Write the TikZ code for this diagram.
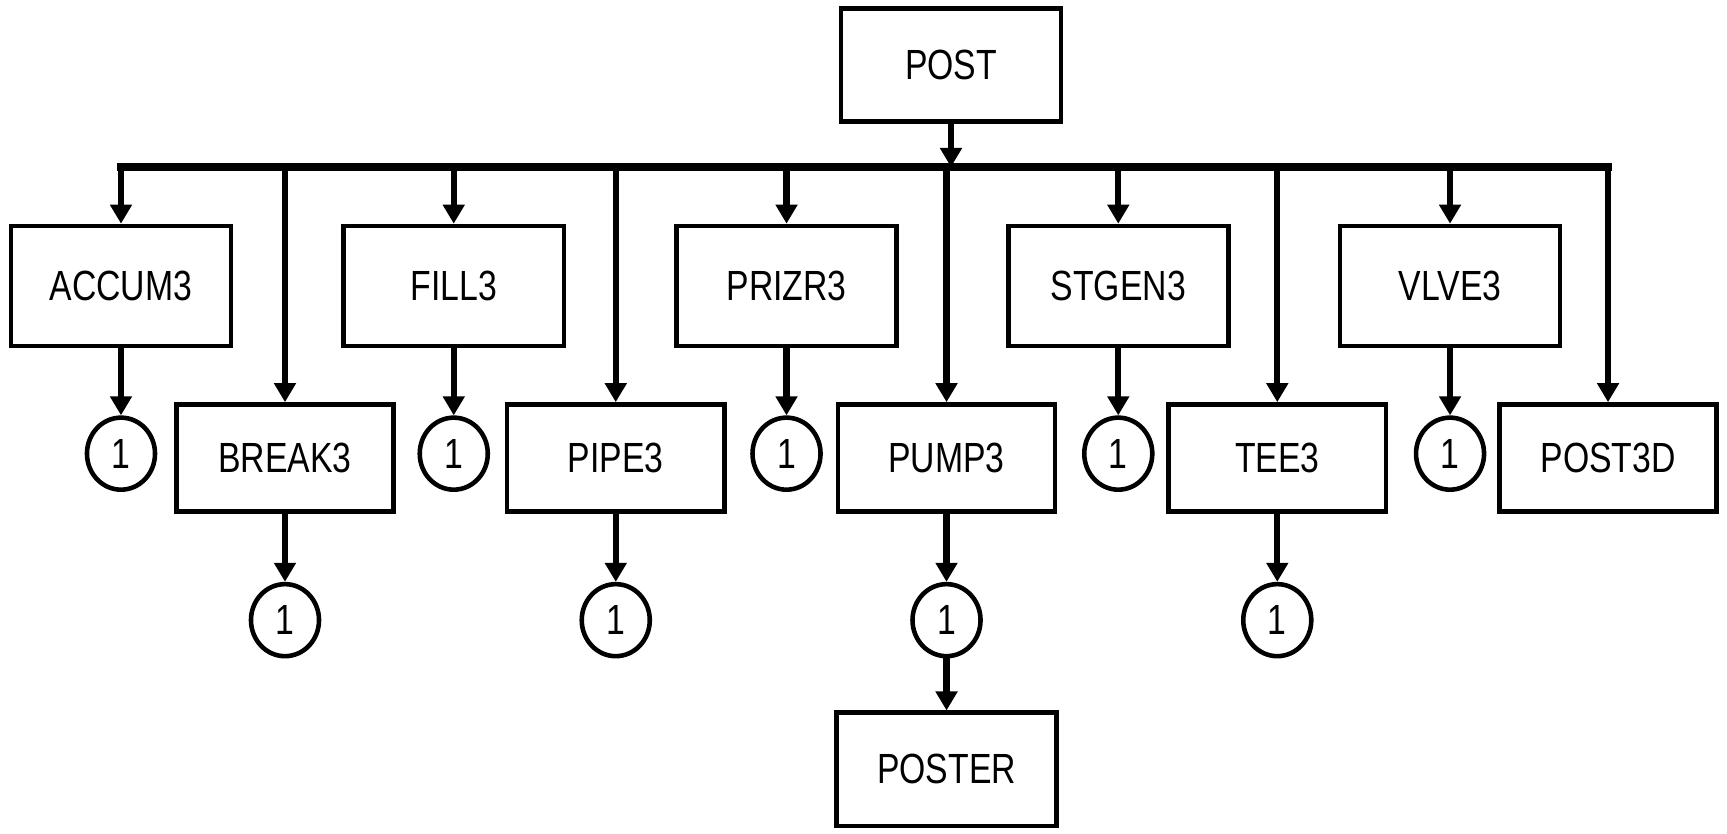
\documentclass[tikz,border=0pt]{standalone}
\usepackage{fontspec}
\setmainfont{Liberation Sans}[FakeStretch=0.8]
\usetikzlibrary{arrows.meta, positioning, shapes.geometric}
\tikzset{
  >={Triangle[length=1.9mm, width=2.1mm]},
  box/.style={rectangle, draw, line width=1.3pt, align=center, minimum width=2.2cm,
              minimum height=1.13cm, font=\fontsize{12}{14}\selectfont},
  boxt/.style={box, minimum height=1.2cm},
  boxb/.style={box, minimum width=2.17cm, minimum height=1.07cm},
  conn/.style={ellipse, draw, line width=1.3pt, minimum width=0.68cm, minimum height=0.72cm,
               inner sep=0pt, font=\fontsize{12}{14}\selectfont},
  flow/.style={->, line width=1.8pt},
  busline/.style={line width=2.4pt, line cap=rect},
}

\begin{document}
\begin{tikzpicture}[x=0.01cm, y=-0.01cm]
  \useasboundingbox (0,0) rectangle (1727,834);
  % driver and bus
  \node[box] (post) at (951,65) {POST};
  \coordinate (bus) at (951,167);
  % first row
  \node[boxt] (accum) at (121,286) {ACCUM3};
  \node[boxt, right=1.08cm of accum] (fill) {FILL3};
  \node[boxt, right=1.08cm of fill] (prizr) {PRIZR3};
  \node[boxt, right=1.07cm of prizr] (stgen) {STGEN3};
  \node[boxt, right=1.07cm of stgen] (vlve) {VLVE3};
  % second row
  \node[boxb] (break) at (285,458) {BREAK3};
  \node[boxb, right=1.09cm of break] (pipe) {PIPE3};
  \node[boxb, right=1.09cm of pipe] (pump) {PUMP3};
  \node[boxb, right=1.09cm of pump] (tee) {TEE3};
  \node[boxb, right=1.09cm of tee] (postd) {POST3D};
  % connectors
  \node[conn, below=0.67cm of accum] (c-accum) {1};
  \node[conn, below=0.67cm of fill] (c-fill) {1};
  \node[conn, below=0.67cm of prizr] (c-prizr) {1};
  \node[conn, below=0.67cm of stgen] (c-stgen) {1};
  \node[conn, below=0.67cm of vlve] (c-vlve) {1};
  \node[conn, below=0.68cm of break] (c-break) {1};
  \node[conn, below=0.68cm of pipe] (c-pipe) {1};
  \node[conn, below=0.68cm of pump] (c-pump) {1};
  \node[conn, below=0.68cm of tee] (c-tee) {1};
  \node[box, below=0.52cm of c-pump] (poster) {POSTER};
  % lines
  \draw[busline] (accum.north |- bus) -- (postd.north |- bus);
  \draw[flow] (post) -- (bus);
  \draw[flow] (accum.north |- bus) -- (accum); \draw[flow] (fill.north |- bus) -- (fill);
  \draw[flow] (prizr.north |- bus) -- (prizr); \draw[flow] (stgen.north |- bus) -- (stgen);
  \draw[flow] (vlve.north |- bus) -- (vlve);
  \draw[flow] (break.north |- bus) -- (break); \draw[flow] (pipe.north |- bus) -- (pipe);
  \draw[flow] (pump.north |- bus) -- (pump); \draw[flow] (tee.north |- bus) -- (tee);
  \draw[flow] (postd.north |- bus) -- (postd);
  \draw[flow] (accum) -- (c-accum); \draw[flow] (fill) -- (c-fill);
  \draw[flow] (prizr) -- (c-prizr); \draw[flow] (stgen) -- (c-stgen);
  \draw[flow] (vlve) -- (c-vlve);
  \draw[flow] (break) -- (c-break); \draw[flow] (pipe) -- (c-pipe);
  \draw[flow] (pump) -- (c-pump); \draw[flow] (tee) -- (c-tee);
  \draw[flow] (c-pump) -- (poster);
\end{tikzpicture}
\end{document}
